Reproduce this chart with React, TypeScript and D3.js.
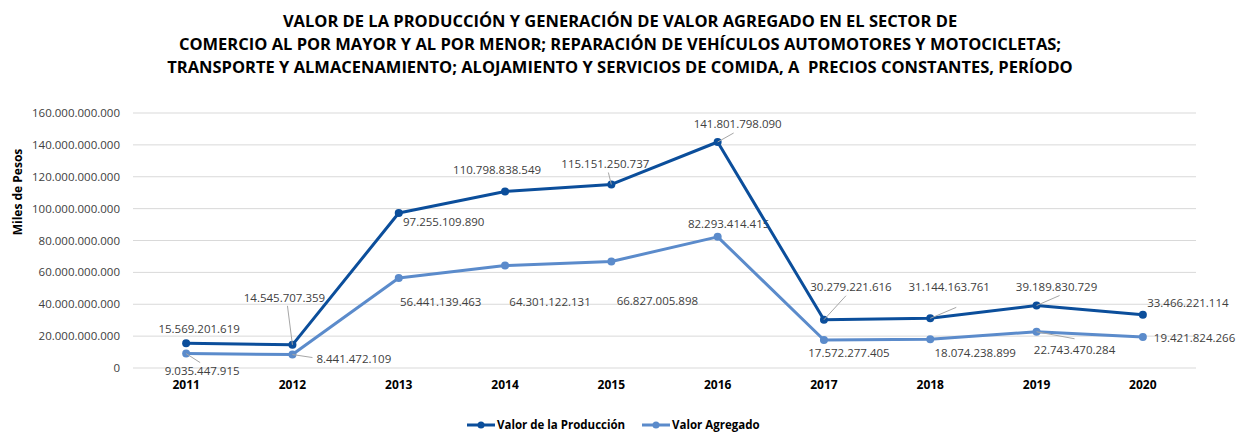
import React from "react";
import * as d3 from "d3";

const years = ["2011","2012","2013","2014","2015","2016","2017","2018","2019","2020"];
const produccion = [15569201619,14545707359,97255109890,110798838549,115151250737,141801798090,30279221616,31144163761,39189830729,33466221114];
const agregado = [9035447915,8441472109,56441139463,64301122131,66827005898,82293414415,17572277405,18074238899,22743470284,19421824266];
const yTicks = [0,20e9,40e9,60e9,80e9,100e9,120e9,140e9,160e9];
const titleLines = [
  "VALOR DE LA PRODUCCIÓN Y GENERACIÓN DE VALOR AGREGADO EN EL SECTOR DE",
  "COMERCIO AL POR MAYOR Y AL POR MENOR; REPARACIÓN DE VEHÍCULOS AUTOMOTORES Y MOTOCICLETAS;",
  "TRANSPORTE Y ALMACENAMIENTO; ALOJAMIENTO Y SERVICIOS DE COMIDA, A  PRECIOS CONSTANTES, PERÍODO",
];
const seriesNames = ["Valor de la Producción","Valor Agregado"];

// label placement: [dx, dy, anchor, leaderEndDx, leaderEndDy]
type Lab = [number, number, string, number | null, number | null];
const prodLabels: Lab[] = [
  [13,-10,"middle",null,null],
  [-8,-43,"middle",-5,-39],
  [45,13,"middle",null,null],
  [-8,-17,"middle",null,null],
  [-6,-16,"middle",-3,-12],
  [20,-14,"middle",16,-9],
  [27,-29,"middle",22,-24],
  [19,-27,"middle",26,-11],
  [20,-15,"middle",23,-10],
  [45,-8,"middle",null,null],
];
const agrLabels: Lab[] = [
  [16,21,"middle",14,9],
  [24,8,"start",20,3],
  [42,28,"middle",null,null],
  [45,40,"middle",null,null],
  [46,44,"middle",null,null],
  [11,-9,"middle",null,null],
  [25,17,"middle",null,null],
  [45,18,"middle",null,null],
  [38,22,"middle",38,7],
  [11,5,"start",null,null],
];

const fmt = (v: number) => d3.format(",")(v).replace(/,/g, ".");

export default function App() {
  const W = 1237, H = 432;
  const left = 133, right = 1196, top = 113, bottom = 368;
  const x = d3.scaleBand().domain(years).range([left, right]);
  const y = d3.scaleLinear().domain([0, 160e9]).range([bottom, top]);
  const cx = (i: number) => (x(years[i]) as number) + x.bandwidth() / 2;
  const line = d3.line<number>().x((_, i) => cx(i)).y((d) => y(d));
  const dark = "#0b4e9b";
  const light = "#5b8bcb";
  const font = "'Open Sans', 'Noto Sans', sans-serif";

  const renderSeries = (vals: number[], color: string, labs: Lab[], key: string) => (
    <g key={key}>
      <path d={line(vals) || ""} fill="none" stroke={color} strokeWidth={3} strokeLinejoin="round" />
      {vals.map((v, i) => (
        <circle key={i} cx={cx(i)} cy={y(v)} r={4} fill={color} />
      ))}
      {vals.map((v, i) => {
        const [dx, dy, anchor, lx, ly] = labs[i];
        const px = cx(i), py = y(v);
        return (
          <g key={"l" + i}>
            {lx !== null && ly !== null && (
              <line x1={px} y1={py} x2={px + lx} y2={py + ly} stroke="#a6a6a6" strokeWidth={1} />
            )}
            <text x={px + dx} y={py + dy} textAnchor={anchor as any} fontSize={11.5} fill="#404040" fontFamily={font}>
              {fmt(v)}
            </text>
          </g>
        );
      })}
    </g>
  );

  return (
    <svg width={W} height={H} style={{ position: "absolute", left: 0, top: 0 }} fontFamily={font}>
      <rect width={W} height={H} fill="#fff" />
      {titleLines.map((t, i) => (
        <text key={i} x={620} y={27 + i * 23} textAnchor="middle" fontSize={16.5} fontWeight="bold" fill="#000" style={{ whiteSpace: "pre" }}>
          {t}
        </text>
      ))}
      {yTicks.map((t) => (
        <g key={t}>
          <line x1={left} x2={right} y1={y(t)} y2={y(t)} stroke="#d9d9d9" strokeWidth={1} />
          <text x={120} y={y(t) + 4} textAnchor="end" fontSize={11.5} fill="#404040">
            {t === 0 ? "0" : fmt(t)}
          </text>
        </g>
      ))}
      <text transform="translate(22,192) rotate(-90)" textAnchor="middle" fontSize={12} fontWeight="bold" fill="#000">
        Miles de Pesos
      </text>
      {years.map((yr, i) => (
        <text key={yr} x={cx(i)} y={389} textAnchor="middle" fontSize={12} fontWeight="bold" fill="#000">
          {yr}
        </text>
      ))}
      {renderSeries(agregado, light, agrLabels, "a")}
      {renderSeries(produccion, dark, prodLabels, "p")}
      {[{ n: seriesNames[0], c: dark, x0: 467 }, { n: seriesNames[1], c: light, x0: 642 }].map((s) => (
        <g key={s.n}>
          <line x1={s.x0} x2={s.x0 + 28} y1={425} y2={425} stroke={s.c} strokeWidth={3} />
          <circle cx={s.x0 + 14} cy={425} r={3.5} fill={s.c} />
          <text x={s.x0 + 30} y={429} fontSize={11.5} fontWeight="bold" fill="#000">
            {s.n}
          </text>
        </g>
      ))}
    </svg>
  );
}
